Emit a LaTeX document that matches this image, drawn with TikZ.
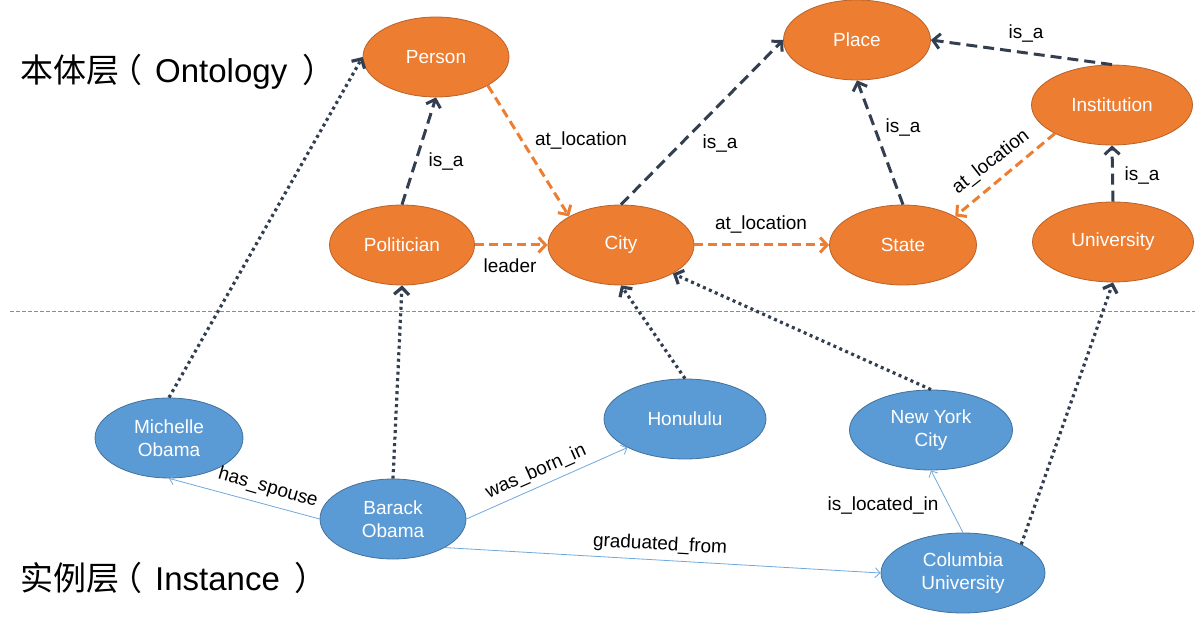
\documentclass[tikz,border=0pt]{standalone}
\usepackage{fontspec}
\setmainfont{Liberation Sans}
\newfontfamily\cjk{Noto Sans CJK SC}
\usetikzlibrary{arrows.meta,shapes.geometric}
\definecolor{ora}{HTML}{ED7D31}
\definecolor{oraline}{HTML}{B9622A}
\definecolor{blu}{HTML}{5B9BD5}
\definecolor{bluline}{HTML}{41719C}
\definecolor{dark}{HTML}{333F50}
\definecolor{thinblue}{HTML}{6FA8DC}
\definecolor{sepgray}{HTML}{8C8C8C}
\begin{document}
\begin{tikzpicture}[x=1pt,y=-1pt,
  onto/.style={ellipse,fill=ora,draw=oraline,line width=0.8pt,minimum height=80pt,inner sep=0pt,text=white,font=\fontsize{19}{23}\selectfont,align=center},
  insta/.style={ellipse,fill=blu,draw=bluline,line width=0.8pt,minimum height=80pt,inner sep=0pt,text=white,font=\fontsize{19}{23}\selectfont,align=center},
  tip/.style={-{Straight Barb[length=7pt,width=15pt]}},
  isa/.style={tip,draw=dark,line width=3pt,dash pattern=on 11pt off 6pt},
  orel/.style={tip,draw=ora,line width=3pt,dash pattern=on 9pt off 5pt},
  inst/.style={tip,draw=dark,line width=3.2pt,dash pattern=on 3pt off 3.5pt},
  irel/.style={-{Straight Barb[length=5pt,width=10pt]},draw=thinblue,line width=0.8pt},
  lab/.style={font=\fontsize{19}{22}\selectfont,text=black,inner sep=0pt},
  title/.style={font=\fontsize{33}{38}\selectfont,text=black,inner sep=0pt,anchor=west}
]
\useasboundingbox (0,0) rectangle (1195,617);

% separator
\coordinate (sepL) at (10,311);
\coordinate (sepR) at (1195,311);
\draw[sepgray,line width=0.8pt,dash pattern=on 4pt off 2pt] (sepL) -- (sepR);

% titles
\node[title] (t1) at (20,72) {{\cjk 本体层}\hspace{-10pt}{\cjk （}\hspace{13pt}Ontology\hspace{15pt}{\cjk ）}};
\node[title] (t2) at (20,578) {{\cjk 实例层}\hspace{-10pt}{\cjk （}\hspace{13pt}Instance\hspace{15pt}{\cjk ）}};

% ontology nodes
\node[onto,minimum width=146pt] (person) at (436,57) {Person};
\node[onto,minimum width=147pt] (place) at (857,40) {Place};
\node[onto,minimum width=161pt] (instn) at (1112,105) {Institution};
\node[onto,minimum width=145pt] (pol) at (402,245) {Politician};
\node[onto,minimum width=146pt] (city) at (621,245) {City};
\node[onto,minimum width=147pt] (state) at (903,245) {State};
\node[onto,minimum width=161pt] (univ) at (1113,242) {University};

% instance nodes
\node[insta,minimum width=148pt] (mich) at (169,438) {Michelle\\Obama};
\node[insta,minimum width=146pt] (barack) at (393,519) {Barack\\Obama};
\node[insta,minimum width=162pt] (hon) at (685,419) {Honululu};
\node[insta,minimum width=163pt] (nyc) at (931,430) {New York\\City};
\node[insta,minimum width=164pt] (col) at (963,573) {Columbia\\University};

% ontology edges
\draw[isa] (pol.north) -- (person.south);
\node[lab] (l1) at (446,162) {is\_a};
\draw[orel] (person.south east) -- (city.north west);
\node[lab] (l2) at (581,141) {at\_location};
\draw[orel] (pol.east) -- (city.west);
\node[lab] (l3) at (510,266) {leader};
\draw[isa] (city.north) -- (place.west);
\node[lab] (l4) at (720,144) {is\_a};
\draw[orel] (city.east) -- (state.west);
\node[lab] (l5) at (761,225) {at\_location};
\draw[isa] (state.north) -- (place.south);
\node[lab] (l6) at (903,128) {is\_a};
\draw[isa] (instn.north) -- (place.east);
\node[lab] (l7) at (1026,34) {is\_a};
\draw[orel] (instn.south west) -- (state.north east);
\node[lab,rotate=38] (l8) at (991,162) {at\_location};
\draw[isa] (univ.north) -- (instn.south);
\node[lab] (l9) at (1142,176) {is\_a};

% instance-of edges
\draw[inst] (mich.north) -- (person.west);
\draw[inst] (barack.north) -- (pol.south);
\draw[inst] (hon.north) -- (city.south);
\draw[inst] (nyc.north) -- (city.south east);
\draw[inst] (col.north east) -- (univ.south);

% instance relations
\draw[irel] (barack.west) -- (mich.south);
\node[lab,rotate=-16] (l10) at (268,488) {has\_spouse};
\draw[irel] (barack.east) -- (hon.south west);
\node[lab,rotate=24] (l11) at (536,472) {was\_born\_in};
\draw[irel] (barack.south east) -- (col.west);
\node[lab,rotate=-3] (l12) at (660,545) {graduated\_from};
\draw[irel] (col.north) -- (nyc.south);
\node[lab] (l13) at (883,506) {is\_located\_in};
\end{tikzpicture}
\end{document}
